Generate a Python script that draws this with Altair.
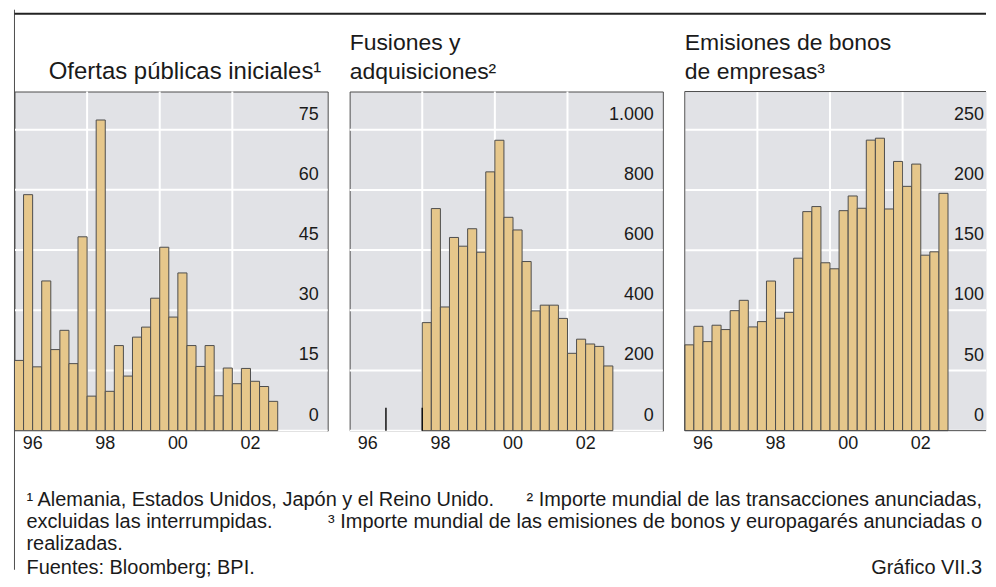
import altair as alt
import pandas as pd

# ---------------- data ----------------
quarter_labels = [f"{y}-T{q}" for y in range(1996, 2003) for q in (1, 2, 3, 4)] + ["2003-T1"]
ma_labels = quarter_labels[8:]          # M&A series starts 1998-T1

ipo_values = [17.5, 58.8, 15.9, 37.3, 20.2, 25.0, 16.7, 48.3, 8.6, 77.4, 9.8, 21.2,
              13.6, 23.3, 25.8, 33.0, 45.7, 28.3, 39.3, 21.2, 16.0, 21.2, 8.7, 15.6,
              11.7, 15.5, 12.3, 11.0, 7.3]
ma_values = [359, 738, 411, 642, 613, 671, 593, 860, 965, 709, 667, 562, 398, 417,
             417, 373, 257, 304, 288, 280, 215]
bond_values = [71.3, 86.7, 74.0, 87.6, 84.0, 99.7, 108.3, 86.2, 90.6, 124.3, 93.4, 98.3,
               143.3, 182.0, 186.2, 139.5, 134.5, 182.8, 195.0, 184.8, 241.4, 243.0,
               184.2, 223.7, 203.0, 221.5, 145.8, 148.6, 197.2]
ma_marker_years = [1997, 1998]
ma_marker_top = 76

x_label_years = [1996.5, 1998.5, 2000.5, 2002.5]
grid_years = [1998, 2000, 2002]
ipo_ticks = [0, 15, 30, 45, 60, 75]
ma_ticks = [0, 200, 400, 600, 800, 1000]
bond_ticks = [0, 50, 100, 150, 200, 250]

title_ipo = ["Ofertas públicas iniciales¹"]
title_ma = ["Fusiones y", "adquisiciones²"]
title_bond = ["Emisiones de bonos", "de empresas³"]

foot_1a = "¹ Alemania, Estados Unidos, Japón y el Reino Unido."
foot_1b = "² Importe mundial de las transacciones anunciadas,"
foot_2a = "excluidas las interrumpidas."
foot_2b = "³ Importe mundial de las emisiones de bonos y europagarés anunciadas o"
foot_3 = "realizadas."
source = "Fuentes: Bloomberg; BPI."
chart_id = "Gráfico VII.3"

# ---------------- style ----------------
FONT = "Liberation Sans, Arial, Helvetica, sans-serif"
BAR = "#E6C78B"
EDGE = "#4d4d4d"
BG = "#E1E2E6"
TXT = "#1a1a1a"
H = 340
PPY = 36.4  # pixels per year
FS = 20     # footnote size


def qstart(lbl):
    y, q = lbl.split("-T")
    return int(y) + (int(q) - 1) / 4


def text_layer(s, x, y, size, align="left"):
    return alt.Chart(pd.DataFrame({"t": [s]})).mark_text(
        font=FONT, fontSize=size, color=TXT, align=align, baseline="middle"
    ).encode(text="t:N", x=alt.value(x), y=alt.value(y))


def rule_px(x, y, x2=None, y2=None, color=EDGE, width=1):
    enc = dict(x=alt.value(x), y=alt.value(y))
    if x2 is not None:
        enc["x2"] = alt.value(x2)
    if y2 is not None:
        enc["y2"] = alt.value(y2)
    return alt.Chart(pd.DataFrame({"d": [0]})).mark_rule(
        color=color, strokeWidth=width).encode(**enc)


def panel(labels, values, ymax, yticks, width, label_inset, extra_layers):
    xs = alt.Scale(domain=[1996, 1996 + width / PPY], nice=False, zero=False, padding=0)
    ys = alt.Scale(domain=[0, ymax], nice=False, zero=True, padding=0)
    df = pd.DataFrame({
        "periodo": labels,
        "x0": [qstart(l) for l in labels],
        "x1": [qstart(l) + 0.25 for l in labels],
        "valor": values,
    })
    tick_df = pd.DataFrame({"v": yticks})
    hgrid = alt.Chart(tick_df).mark_rule(color="white", strokeWidth=2).encode(
        y=alt.Y("v:Q", scale=ys, axis=None))
    vgrid = alt.Chart(pd.DataFrame({"g": grid_years})).mark_rule(
        color="white", strokeWidth=2
    ).encode(x=alt.X("g:Q", scale=xs, axis=None))
    bars = alt.Chart(df).mark_bar(fill=BAR, stroke=EDGE, strokeWidth=1,
                                  orient="vertical").encode(
        x=alt.X("x0:Q", scale=xs, axis=None),
        x2="x1:Q",
        y=alt.Y("valor:Q", scale=ys, axis=None),
        y2=alt.datum(0),
        tooltip=["periodo:N", "valor:Q"],
    )
    ylabels = alt.Chart(tick_df).transform_calculate(
        lab="replace(format(datum.v, ','), ',', '.')"
    ).mark_text(font=FONT, fontSize=18, color=TXT, align="right", baseline="middle",
                dy=-15).encode(
        y=alt.Y("v:Q", scale=ys, axis=None), x=alt.value(width - label_inset),
        text="lab:N")
    xlabels = alt.Chart(pd.DataFrame({"a": x_label_years})).transform_calculate(
        lab="substring(toString(floor(datum.a)), 2, 4)"
    ).mark_text(font=FONT, fontSize=18, color=TXT, baseline="middle").encode(
        x=alt.X("a:Q", scale=xs, axis=None), y=alt.value(H + 13), text="lab:N")
    layers = [hgrid, vgrid, bars, ylabels, xlabels]
    for mk in extra_layers:
        layers.append(mk(xs, ys))
    return layers, width


# --- panel 1 ---
p1_layers, w1 = panel(quarter_labels, ipo_values, 84.5, ipo_ticks, 314, 9, [])
p1_layers += [
    text_layer(title_ipo[0], 171, -20, 24, align="center"),
    rule_px(0, -82, y2=479.5, color=EDGE, width=1),        # left frame line
    rule_px(0, -78, x2=974, color="#222222", width=2),     # top rule
    text_layer(foot_1a, 12, 410, FS),
    text_layer(foot_1b, 970, 410, FS, align="right"),
    text_layer(foot_2a, 12, 432, FS),
    text_layer(foot_2b, 970, 432, FS, align="right"),
    text_layer(foot_3, 12, 454, FS),
    text_layer(source, 12, 478, FS),
    text_layer(chart_id, 970, 478, FS, align="right"),
]
p1 = alt.layer(*p1_layers).properties(width=w1, height=H)


# --- panel 2 ---
def p2_marker(xs, ys):
    return alt.Chart(pd.DataFrame({"t": ma_marker_years})).mark_rule(
        color="#111111", strokeWidth=1.5
    ).encode(x=alt.X("t:Q", scale=xs, axis=None),
             y=alt.datum(0),
             y2=alt.datum(ma_marker_top))


p2_layers, w2 = panel(ma_labels, ma_values, 1127, ma_ticks, 314, 9, [p2_marker])
p2_layers += [text_layer(title_ma[0], 0, -49, 23), text_layer(title_ma[1], 0, -20, 23)]
p2 = alt.layer(*p2_layers).properties(width=w2, height=H)

# --- panel 3 (cut at the page edge, no right border) ---
p3_layers, w3 = panel(quarter_labels, bond_values, 281.8, bond_ticks, 302, 2, [])
p3_layers += [
    rule_px(0, 0, y2=H), rule_px(0, 0, x2=302), rule_px(0, H, x2=302),
    text_layer(title_bond[0], 0, -49, 23), text_layer(title_bond[1], 0, -20, 23),
]
p3 = alt.layer(*p3_layers).properties(
    width=w3, height=H, view=alt.ViewBackground(stroke="transparent", fill=BG))

chart = alt.hconcat(p1, p2, p3, spacing=22, bounds="flush").properties(
    padding={"left": 4.5, "top": 0, "right": 0, "bottom": 0}
).configure_view(fill=BG, stroke=EDGE, strokeWidth=1)

chart.save("out.html", embed_options={"renderer": "svg", "actions": False})
